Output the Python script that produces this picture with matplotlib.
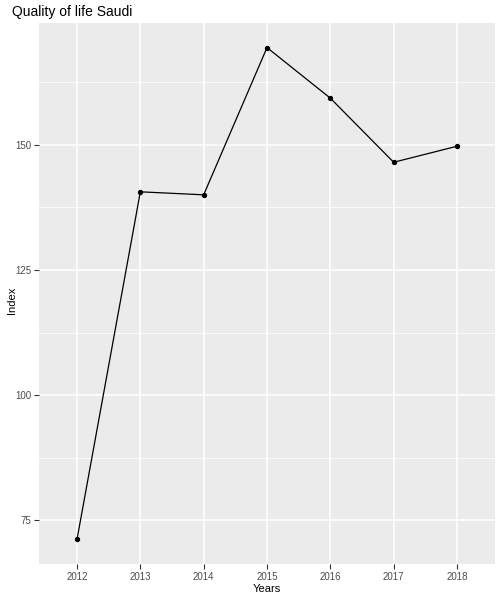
import numpy as np
import matplotlib.pyplot as plt

years = ["2012", "2013", "2014", "2015", "2016", "2017", "2018"]
index_vals = [71.2, 140.6, 140.0, 169.4, 159.3, 146.5, 149.7]
y_ticks = [75, 100, 125, 150]
y_minor = [87.5, 112.5, 137.5, 162.5]

plt.rcParams['font.family'] = ['Liberation Sans', 'DejaVu Sans']

fig = plt.figure(figsize=(5, 6), dpi=100)
ax = fig.add_axes([0.078, 0.06, 0.912, 0.9017])
ax.set_facecolor('#EBEBEB')

x = np.arange(len(years))
ax.plot(x, index_vals, color='black', lw=0.9, zorder=3)
ax.scatter(x, index_vals, color='black', s=8, zorder=4)

lo, hi = min(index_vals), max(index_vals)
pad = (hi - lo) * 0.05
ax.set_ylim(lo - pad, hi + pad)
ax.set_xlim(-0.6, len(years) - 1 + 0.6)

ax.set_xticks(x)
ax.set_xticklabels(years)
ax.set_yticks(y_ticks)
ax.set_yticks(y_minor, minor=True)

ax.grid(which='major', color='white', lw=1.1)
ax.grid(which='minor', axis='y', color='white', lw=0.55)
ax.set_axisbelow(True)

for s in ax.spines.values():
    s.set_visible(False)

ax.tick_params(which='major', length=3.5, width=0.8, color='#333333',
               labelsize=7, labelcolor='#4D4D4D', pad=2)
ax.tick_params(which='minor', length=0)

ax.set_xlabel("Years", fontsize=8, labelpad=2)
ax.set_ylabel("Index", fontsize=8, va='center')
ax.yaxis.set_label_coords(0.024, 0.5, transform=fig.transFigure)
fig.text(0.024, 0.98, "Quality of life Saudi", fontsize=10, va='center', ha='left')

fig.savefig("out.png", dpi=100)
